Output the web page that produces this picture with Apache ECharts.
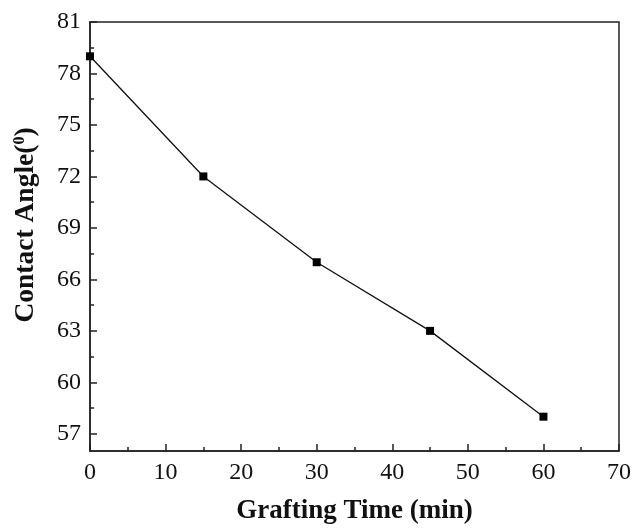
<!DOCTYPE html>
<html>
<head>
<meta charset="utf-8">
<script src="https://cdn.jsdelivr.net/npm/echarts@6/dist/echarts.min.js"></script>
<style>
  html, body { margin: 0; padding: 0; background: #fff; }
  #chart { width: 634px; height: 530px; }
</style>
</head>
<body>
<div id="chart"></div>
<script>
const graftTime = [0, 15, 30, 45, 60];
const contactAngle = [79, 72, 67, 63, 58];
const yMajorTicks = [57, 60, 63, 66, 69, 72, 75, 78, 81];
const yMinorTicks = [58.5, 61.5, 64.5, 67.5, 70.5, 73.5, 76.5, 79.5];
const xMinorTicks = [5, 15, 25, 35, 45, 55, 65];

const font = 'Liberation Serif';
let chart = echarts.init(document.getElementById('chart'));
let options = {
  animation: false,
  grid: {left: 90, top: 22, right: 12, bottom: 75, show: true, borderColor: '#222', borderWidth: 1.5, containLabel: false},
  xAxis: [
    {
      type: 'value', min: 0, max: 70, interval: 10,
      name: 'Grafting Time (min)', nameLocation: 'middle', nameGap: 47,
      nameTextStyle: {fontFamily: font, fontWeight: 'bold', fontSize: 27, color: '#111'},
      axisLine: {lineStyle: {color: '#222', width: 1.5}},
      axisTick: {inside: true, length: 7, lineStyle: {color: '#222', width: 1.5}},
      axisLabel: {fontFamily: font, fontSize: 24, color: '#111', margin: 10},
      splitLine: {show: false}
    },
    {
      type: 'value', min: 0, max: 70, position: 'bottom',
      axisLine: {show: false},
      axisTick: {inside: true, length: 4, customValues: xMinorTicks, lineStyle: {color: '#222', width: 1.5}},
      axisLabel: {show: false},
      splitLine: {show: false}
    }
  ],
  yAxis: [
    {
      type: 'value', min: 56, max: 81,
      name: 'Contact Angle({sup|0})', nameLocation: 'middle', nameGap: 50, nameRotate: 90,
      nameTextStyle: {
        fontFamily: font, fontWeight: 'bold', fontSize: 27.5, color: '#111', padding: [0, 0, 0, 23],
        rich: {sup: {fontFamily: font, fontWeight: 'bold', fontSize: 16, verticalAlign: 'top', padding: [0, 0, 12, 0], color: '#111'}}
      },
      axisLine: {show: true, lineStyle: {color: '#222', width: 1.5}},
      axisTick: {inside: true, length: 7, customValues: yMajorTicks, lineStyle: {color: '#222', width: 1.5}},
      axisLabel: {fontFamily: font, fontSize: 24, color: '#111', margin: 9, customValues: yMajorTicks},
      splitLine: {show: false}
    },
    {
      type: 'value', min: 56, max: 81, position: 'left',
      axisLine: {show: false},
      axisTick: {inside: true, length: 4, customValues: yMinorTicks, lineStyle: {color: '#222', width: 1.5}},
      axisLabel: {show: false},
      splitLine: {show: false}
    }
  ],
  series: [{
    type: 'line',
    data: graftTime.map((t, i) => [t, contactAngle[i]]),
    symbol: 'rect', symbolSize: 8,
    itemStyle: {color: '#000'},
    lineStyle: {color: '#111', width: 1.3}
  }]
};
chart.setOption(options);
</script>
</body>
</html>
